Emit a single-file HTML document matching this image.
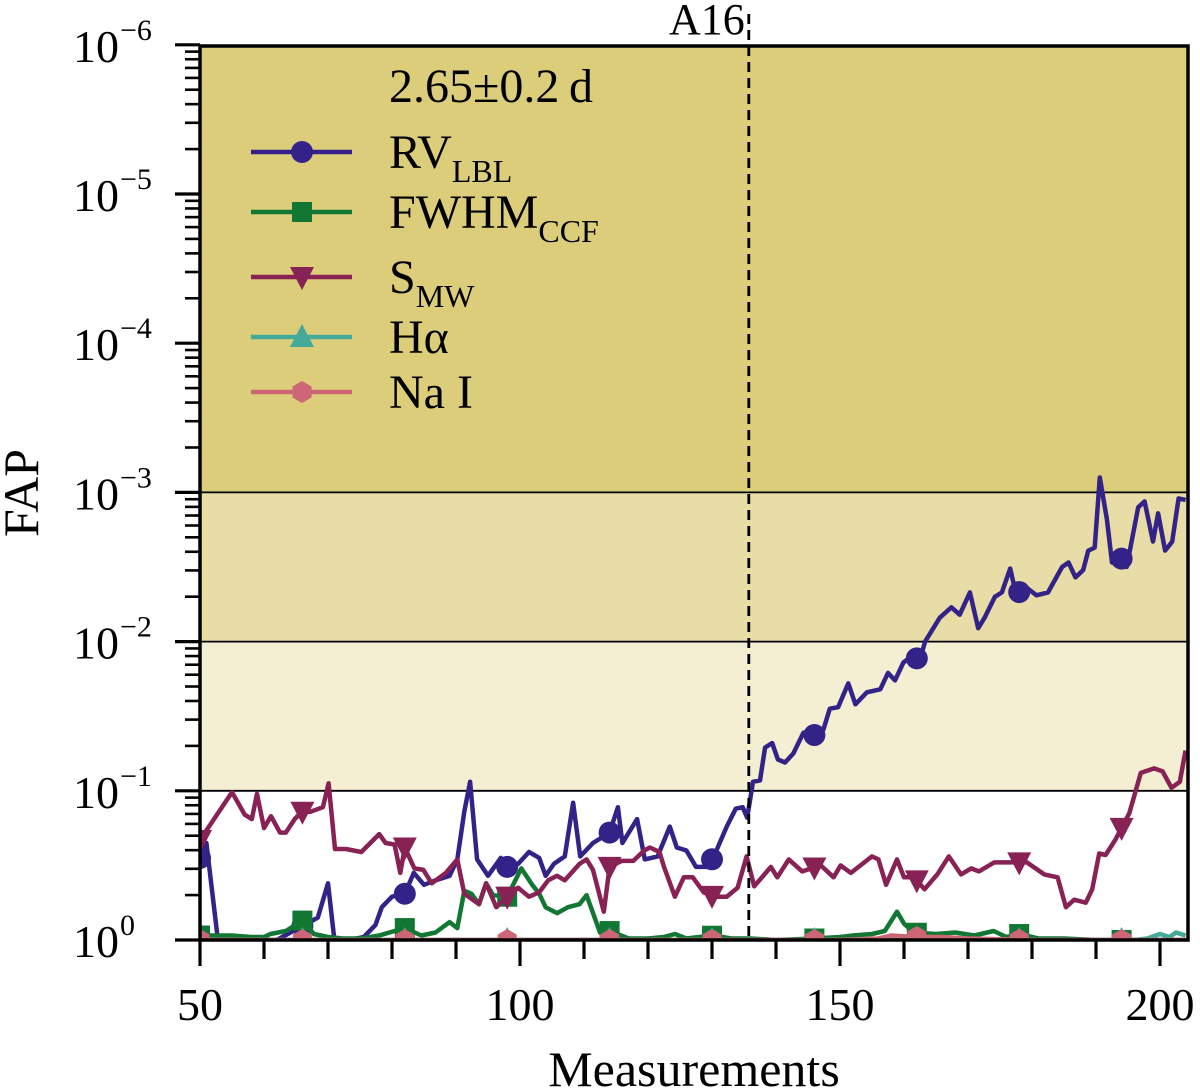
<!DOCTYPE html>
<html><head><meta charset="utf-8"><style>
html,body{margin:0;padding:0;background:#fff;}
svg{display:block;font-family:"Liberation Serif","DejaVu Serif",serif;}
</style></head><body>
<svg id="chart" width="1200" height="1090" viewBox="0 0 1200 1090" xmlns="http://www.w3.org/2000/svg">
<defs><clipPath id="plotclip"><rect x="200" y="46" width="988" height="894"/></clipPath></defs>
<g id="bands"></g>
<g id="series" clip-path="url(#plotclip)"></g>
<g id="axes"></g>
<g id="legend"></g>
</svg>
<script>
// ---- data (log10 FAP) ----
const rvX = [50,51,52.8,62,68.4,70,71,73.4,75.6,77.4,78.4,80,82,83.4,85,86.8,89,90.2,91.3,92.2,93.3,95,97,98,99.7,101.4,103,104,105.3,107,108.3,109.4,111.4,114,115.3,116,118.3,119.5,121.5,123.4,124.5,126,127.5,129.2,130.3,132.3,133.7,134.8,135.5,136.4,137.5,138.3,139.4,140.3,141.4,142.7,144.3,146.4,147.4,148.4,149.7,151.3,152.4,154.2,156.3,157.5,158.6,159.9,161.2,162.5,163.3,165.6,167.4,168.7,170.3,171.6,172.6,174.2,175.3,176.6,177.6,178.6,180.7,182.5,184.7,185.7,186.8,188,188.8,189.8,190.6,191.7,192.5,193.8,194.8,196.6,197.6,198.9,199.7,200.8,201.9,202.9,204];
const rvLog = [-0.55,-0.65,0,0,-0.15,-0.38,0,0,-0.02,-0.10,-0.22,-0.29,-0.31,-0.45,-0.37,-0.40,-0.43,-0.54,-0.86,-1.06,-0.54,-0.43,-0.55,-0.49,-0.51,-0.59,-0.55,-0.43,-0.51,-0.56,-0.92,-0.56,-0.65,-0.72,-0.89,-0.65,-0.81,-0.54,-0.56,-0.76,-0.62,-0.60,-0.49,-0.49,-0.56,-0.76,-0.88,-0.89,-0.82,-1.06,-1.07,-1.29,-1.32,-1.21,-1.19,-1.25,-1.39,-1.37,-1.41,-1.55,-1.56,-1.72,-1.58,-1.66,-1.68,-1.79,-1.74,-1.86,-1.90,-1.88,-2.00,-2.16,-2.23,-2.18,-2.33,-2.09,-2.16,-2.30,-2.33,-2.49,-2.30,-2.38,-2.31,-2.33,-2.50,-2.53,-2.43,-2.48,-2.61,-2.63,-3.10,-2.82,-2.53,-2.57,-2.50,-2.90,-2.94,-2.67,-2.86,-2.61,-2.67,-2.96,-2.95];
const sX = [50,52.8,55,57,58.1,58.9,60,61.1,62.5,63.4,64.8,65.9,67.3,69.2,70.1,71.1,72.8,75.2,78,79,80.4,81.3,82,83.5,84.9,86.2,88.4,90.2,91.3,93.6,94.7,96.3,98,99.7,101.4,103,104.4,105.8,107,109.3,110.4,111.4,113.1,114,115.9,117.7,119.4,120.3,121.8,122.5,124.2,125.6,127,128.7,130.3,132.3,134,135.4,136.6,139.2,140.2,142,144.1,147,149,150.1,151.7,153.2,155,156,157.2,158.9,160,161.6,163.2,165.2,167,168.9,170.5,171.7,174.1,176.7,179.2,181.9,184,185.3,186.6,188.4,189.4,190.5,191.5,193,195.2,197,199.1,200.4,201.8,203.1,204];
const sLog = [-0.67,-0.85,-0.99,-0.84,-0.81,-0.98,-0.75,-0.83,-0.72,-0.72,-0.81,-0.86,-0.86,-0.89,-1.05,-0.61,-0.61,-0.59,-0.71,-0.65,-0.64,-0.45,-0.62,-0.48,-0.47,-0.38,-0.45,-0.54,-0.31,-0.24,-0.38,-0.22,-0.29,-0.35,-0.29,-0.32,-0.40,-0.43,-0.40,-0.51,-0.54,-0.47,-0.19,-0.49,-0.53,-0.53,-0.60,-0.62,-0.59,-0.49,-0.29,-0.42,-0.42,-0.32,-0.29,-0.29,-0.35,-0.56,-0.36,-0.49,-0.42,-0.54,-0.46,-0.50,-0.42,-0.50,-0.45,-0.50,-0.56,-0.54,-0.37,-0.54,-0.42,-0.42,-0.34,-0.44,-0.56,-0.44,-0.48,-0.46,-0.52,-0.52,-0.52,-0.44,-0.42,-0.22,-0.27,-0.25,-0.34,-0.58,-0.57,-0.67,-0.85,-1.12,-1.15,-1.13,-1.02,-1.06,-1.27];
const fwX = [50,52,55,58,60,61,63.4,66,67.8,70,72.3,75.2,78,79.6,82,84.6,86.8,89,90.2,91.3,92.4,93.6,94.7,95.8,98,100.2,101.9,103,104,105.8,107.5,109.3,110.4,112.5,114,117,120,122.5,124.2,126,128,130.3,133,136,140,146,150,152,155,157,158.9,160,161.5,165,168,171,174,176,178,181,185,190,195,200,204];
const fwLog = [-0.03,-0.03,-0.03,-0.02,-0.02,-0.04,-0.06,-0.13,-0.04,-0.02,-0.01,-0.01,-0.03,-0.05,-0.08,-0.03,-0.05,-0.12,-0.08,-0.33,-0.31,-0.24,-0.38,-0.30,-0.29,-0.48,-0.37,-0.31,-0.22,-0.18,-0.22,-0.24,-0.30,-0.05,-0.06,-0.01,-0.01,-0.02,-0.04,-0.01,-0.02,-0.03,-0.01,-0.01,0,-0.01,-0.02,-0.03,-0.04,-0.06,-0.19,-0.11,-0.05,-0.04,-0.05,-0.03,-0.06,-0.02,-0.04,-0.01,-0.01,0,0,0,0];
const haX = [50,100,150,196,198,200,201.5,202.5,204];
const haLog = [0,0,0,0,-0.01,-0.04,-0.02,-0.05,-0.03];
const naX = [50,100,150,156,158,162,166,170,180,204];
const naLog = [0,0,0,-0.01,-0.03,-0.02,-0.02,-0.01,0,0];
const markerX = [50,66,82,98,114,130,146,162,178,194];
const xTicks = [50,100,150,200];
const yExps = [0,-1,-2,-3,-4,-5,-6];

// ---- scales ----
const X0=200, XPX=6.4, Y0=940, DEC=149.2;
const sx = v => X0 + (v-50)*XPX;
const sy = l => Y0 + l*DEC;
const NS="http://www.w3.org/2000/svg";
function mk(tag, attrs, parent){const e=document.createElementNS(NS,tag);for(const k in attrs)e.setAttribute(k,attrs[k]);parent.appendChild(e);return e;}
function interp(xs, ls, x){for(let i=0;i<xs.length-1;i++){if(x>=xs[i]&&x<=xs[i+1]){const t=(x-xs[i])/(xs[i+1]-xs[i]||1);return ls[i]+t*(ls[i+1]-ls[i]);}}return ls[ls.length-1];}

// bands
const bands=document.getElementById('bands');
const bandDefs=[[-6,-3,'#dccd7a','band-below-1e-3'],[-3,-2,'#e8dda6','band-1e-3-1e-2'],[-2,-1,'#f4eed2','band-1e-2-1e-1']];
bandDefs.forEach(b=>{
  const r=mk('rect',{x:200,y:sy(b[0]),width:988,height:sy(b[1])-sy(b[0]),fill:b[2]},bands);
  
  
});
[-3,-2,-1].forEach(l=>{
  const ln=mk('line',{x1:200,x2:1188,y1:sy(l),y2:sy(l),stroke:'#000','stroke-width':1.8},bands);
  
  
});

function marker(g, type, cx, cy, color){
  let e;
  if(type==='circle') e=mk('circle',{cx:cx,cy:cy,r:11,fill:color},g);
  else if(type==='square') e=mk('rect',{x:cx-10,y:cy-10,width:20,height:20,fill:color},g);
  else if(type==='down') e=mk('polygon',{points:`${cx-12},${cy-10} ${cx+12},${cy-10} ${cx},${cy+13}`,fill:color},g);
  else if(type==='up') e=mk('polygon',{points:`${cx-12},${cy+10} ${cx+12},${cy+10} ${cx},${cy-13}`,fill:color},g);
  else { let p=[];for(let i=0;i<6;i++){const a=Math.PI/3*i+Math.PI/2;p.push((cx+11*Math.cos(a)).toFixed(1)+','+(cy+11*Math.sin(a)).toFixed(1));} e=mk('polygon',{points:p.join(' '),fill:color},g);}
  return e;
}

const seriesG=document.getElementById('series');
const seriesDefs=[
  [rvX,rvLog,'#332288','circle','series-rv-lbl'],
  [fwX,fwLog,'#117733','square','series-fwhm-ccf'],
  [sX,sLog,'#882255','down','series-s-mw'],
  [haX,haLog,'#44aa99','up','series-h-alpha'],
  [naX,naLog,'#cc6677','hex','series-na-i']
];
seriesDefs.forEach(s=>{
  const g=mk('g',{},seriesG);
  
  
  const pts=s[0].map((x,i)=>sx(x).toFixed(1)+','+sy(s[1][i]).toFixed(1)).join(' ');
  const pl=mk('polyline',{points:pts,fill:'none',stroke:s[2],'stroke-width':4.5,'stroke-linejoin':'round'},g);
  
  
  markerX.forEach(mx=>{
    const m=marker(g,s[3],sx(mx),sy(interp(s[0],s[1],mx)),s[2]);
    
    
  });
});

const axes=document.getElementById('axes');
const A16=135.75;
const dl=mk('line',{x1:sx(A16),x2:sx(A16),y1:14,y2:940,stroke:'#000','stroke-width':2.8,'stroke-dasharray':'10,6'},axes);


const at=mk('text',{x:sx(A16)-4,y:34,'font-size':44,'text-anchor':'end'},axes);
at.textContent='A16';



const fr=mk('rect',{x:200,y:46,width:988,height:894,fill:'none',stroke:'#000','stroke-width':3.5},axes);



for(let v=50; v<=204; v+=10){
  const major = xTicks.includes(v);
  const t=mk('line',{x1:sx(v),x2:sx(v),y1:940,y2:940+(major?26:19),stroke:'#000','stroke-width':3.2},axes);
  
  
}
xTicks.forEach(v=>{
  const t=mk('text',{x:sx(v),y:1020,'font-size':46,'text-anchor':'middle'},axes);
  t.textContent=String(v);
  
  
});
yExps.forEach(e=>{
  const y=sy(e);
  const t=mk('line',{x1:175,x2:200,y1:y,y2:y,stroke:'#000','stroke-width':3.2},axes);
  
  
  if(e>-6){for(let m=2;m<=9;m++){const ym=y-Math.log10(m)*DEC;const mt=mk('line',{x1:185,x2:200,y1:ym,y2:ym,stroke:'#000','stroke-width':2.6},axes);
    
    }}
  const tx=mk('text',{x:119,y:y+17,'font-size':46,'text-anchor':'end'},axes);
  tx.textContent='10';
  
  
  const sp=mk('text',{x:120,y:y-5,'font-size':30,'text-anchor':'start'},axes);
  sp.textContent=e===0?'0':'\u2212'+(-e);
  
  
});
const xl=mk('text',{x:694,y:1086,'font-size':50,'text-anchor':'middle'},axes);
xl.textContent='Measurements';


const yl=mk('text',{x:0,y:0,'font-size':50,'text-anchor':'middle',transform:'translate(38,493) rotate(-90)'},axes);
yl.textContent='FAP';



const lg=document.getElementById('legend');
const ttl=mk('text',{x:389,y:102,'font-size':48},lg);
ttl.textContent='2.65\u00b10.2\u2009d';


const legDefs=[['#332288','circle','RV','LBL',152],['#117733','square','FWHM','CCF',212],['#882255','down','S','MW',277],['#44aa99','up','H\u03b1','',337],['#cc6677','hex','Na I','',392]];
legDefs.forEach(d=>{
  const g=mk('g',{},lg);
  
  
  mk('line',{x1:251,x2:352,y1:d[4],y2:d[4],stroke:d[0],'stroke-width':4.5},g);
  marker(g,d[1],302,d[4],d[0]);
  const t=mk('text',{x:389,y:d[4]+16,'font-size':48},g);
  t.textContent=d[2];
  if(d[3]){const ts=document.createElementNS(NS,'tspan');ts.setAttribute('font-size','32');ts.setAttribute('dy','14');ts.textContent=d[3];t.appendChild(ts);}
});
</script>
</body></html>
